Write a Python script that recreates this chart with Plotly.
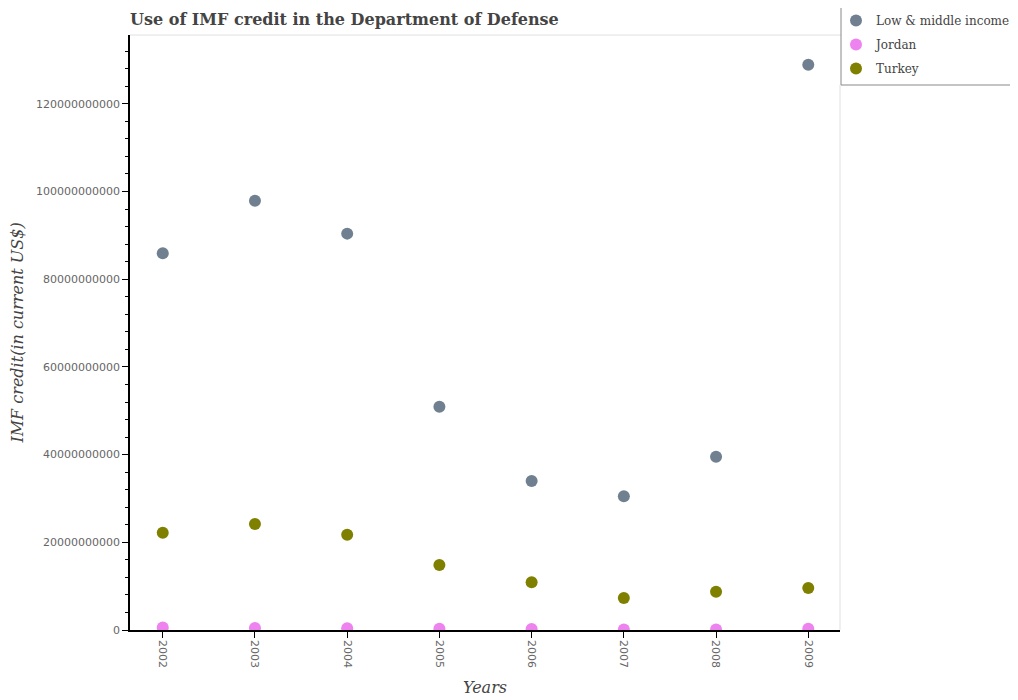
import plotly.graph_objects as go

years = [2002, 2003, 2004, 2005, 2006, 2007, 2008, 2009]
low_middle = [85.9e9, 97.9e9, 90.4e9, 50.9e9, 34.0e9, 30.5e9, 39.5e9, 128.9e9]
jordan = [5.5e8, 4.8e8, 3.9e8, 3.0e8, 2.2e8, 1.4e8, 0.9e8, 3.0e8]
turkey = [22.2e9, 24.2e9, 21.7e9, 14.8e9, 10.9e9, 7.3e9, 8.7e9, 9.6e9]

serif = "DejaVu Serif"
sans = "DejaVu Sans"

# plot area in figure pixels (page has an 8px body margin)
L, R, T, B = 122, 832, 27, 622
PW, PH = R - L, B - T

fig = go.Figure()
for name, vals, col in [("Low & middle income", low_middle, "slategray"),
                        ("Jordan", jordan, "violet"),
                        ("Turkey", turkey, "olive")]:
    fig.add_trace(go.Scatter(x=years, y=vals, name=name, mode="markers",
                             legendgroup=name,
                             marker=dict(color=col, size=12)))

fig.update_layout(
    width=1018, height=700,
    margin=dict(l=L, r=1018 - R, t=T, b=700 - B, autoexpand=False),
    paper_bgcolor="white", plot_bgcolor="white",
    title=dict(text="<b>Use of IMF credit in the Department of Defense</b>",
               x=L / 1018, xanchor="left", y=1 - 11 / 700, yanchor="middle",
               font=dict(family=serif, size=16, color="#444")),
    legend=dict(x=(828 - L) / PW, xanchor="left", y=1 + 29 / PH, yanchor="top",
                font=dict(family=serif, size=12, color="#444"),
                bgcolor="rgba(0,0,0,0)", tracegroupgap=5),
    showlegend=True,
)

fig.update_xaxes(
    range=[2001.645, 2009.344], tickmode="array", tickvals=years,
    ticktext=[str(y) for y in years], tickangle=90,
    showline=True, linecolor="black", linewidth=1.5,
    ticks="outside", tickcolor="black", ticklen=6,
    showgrid=False, zeroline=False,
    tickfont=dict(family=sans, size=11, color="#666"),
    title=dict(text="<i>Years</i>", font=dict(family=serif, size=16, color="#444"),
               standoff=15),
)
fig.update_yaxes(
    range=[0, 135.7e9], dtick=20e9, tickformat="d",
    showline=True, linecolor="black", linewidth=1.5,
    ticks="outside", tickcolor="black", ticklen=6,
    minor=dict(dtick=4e9, ticks="outside", ticklen=3, tickcolor="black", showgrid=False),
    showgrid=False, zeroline=False,
    tickfont=dict(family=sans, size=11, color="#666"),
    title=dict(text="<i>IMF credit(in current US$)</i>",
               font=dict(family=serif, size=16, color="#444"), standoff=10),
)

lx = (833 - L) / PW
ly = (B - 77) / PH
# light frame on the top and right edges of the plot area
fig.add_shape(type="line", xref="paper", yref="paper", x0=0, x1=lx,
              y0=1, y1=1, line=dict(color="#e0e0e0", width=1))
fig.add_shape(type="line", xref="paper", yref="paper", x0=1, x1=1,
              y0=0, y1=ly, line=dict(color="#e0e0e0", width=1))
# legend box border (left and bottom)
fig.add_shape(type="line", xref="paper", yref="paper", x0=lx, x1=lx,
              y0=ly, y1=B / PH, line=dict(color="#888", width=1))
fig.add_shape(type="line", xref="paper", yref="paper", x0=lx, x1=(1018 - L) / PW,
              y0=ly, y1=ly, line=dict(color="#888", width=1))

fig.write_html("out.html")
